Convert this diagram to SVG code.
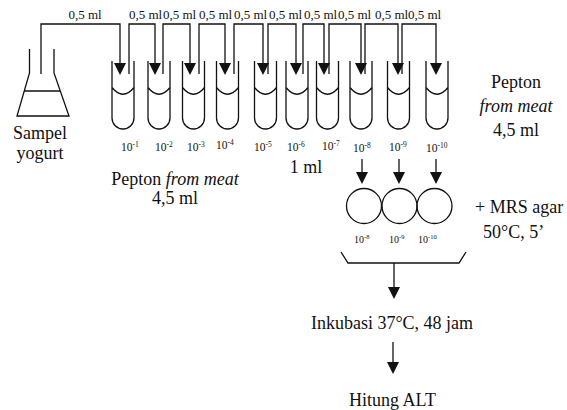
<svg xmlns="http://www.w3.org/2000/svg" width="567" height="410" viewBox="0 0 567 410">
<style>
  .ln{fill:none;stroke:#111;stroke-width:1.3}
  .t{font-family:"Liberation Serif","Times New Roman",serif;fill:#111}
  .big{font-size:18px}
  .ml{font-size:13px}
  .exp{font-size:11.5px}
  .exps{font-size:10px}
  .it{font-style:italic}
</style>
<defs>
  <marker id="ah" markerUnits="userSpaceOnUse" markerWidth="12" markerHeight="12" refX="0" refY="5.5" orient="auto" viewBox="0 0 11 11">
    <path d="M0,0 L11,5.5 L0,11 Z" fill="#111"/>
  </marker>
  <path id="tube" d="M0,61 V118 A11,11 0 0 0 22,118 V61 M0,87.5 Q11,101 22,87.5" fill="none" stroke="#111" stroke-width="1.3"/>
</defs>

<g id="flask">
  <path class="ln" d="M29.5,49 V73 L17,116 H69 L54,73 V49"/>
  <path class="ln" d="M24,91 H60"/>
  <text class="t big" x="40" y="139" text-anchor="middle">Sampel</text>
  <text class="t big" x="40" y="159" text-anchor="middle">yogurt</text>
</g>

<g id="tubes">
  <use href="#tube" x="112"/>
  <use href="#tube" x="148"/>
  <use href="#tube" x="182.5"/>
  <use href="#tube" x="216.5"/>
  <use href="#tube" x="254.5"/>
  <use href="#tube" x="286"/>
  <use href="#tube" x="316.5"/>
  <use href="#tube" x="350"/>
  <use href="#tube" x="387.5"/>
  <use href="#tube" x="426"/>
</g>

<g id="tube-labels" class="t exp">
  <text x="121" y="151">10<tspan dy="-4.5" font-size="7.5">-1</tspan></text>
  <text x="155" y="151">10<tspan dy="-4.5" font-size="7.5">-2</tspan></text>
  <text x="187" y="151">10<tspan dy="-4.5" font-size="7.5">-3</tspan></text>
  <text x="216" y="149">10<tspan dy="-4.5" font-size="7.5">-4</tspan></text>
  <text x="254" y="151">10<tspan dy="-4.5" font-size="7.5">-5</tspan></text>
  <text x="287" y="151">10<tspan dy="-4.5" font-size="7.5">-6</tspan></text>
  <text x="322" y="150">10<tspan dy="-4.5" font-size="7.5">-7</tspan></text>
  <text x="353" y="152">10<tspan dy="-4.5" font-size="7.5">-8</tspan></text>
  <text x="389" y="151">10<tspan dy="-4.5" font-size="7.5">-9</tspan></text>
  <text x="426" y="152">10<tspan dy="-4.5" font-size="7.5">-10</tspan></text>
</g>

<g id="connectors">
  <path class="ln" d="M41,74 V24 H120 V63" marker-end="url(#ah)"/>
  <path class="ln" d="M129,74 V24 H155 V63" marker-end="url(#ah)"/>
  <path class="ln" d="M163,74 V24 H190 V63" marker-end="url(#ah)"/>
  <path class="ln" d="M199,74 V24 H225 V63" marker-end="url(#ah)"/>
  <path class="ln" d="M234,74 V24 H263 V63" marker-end="url(#ah)"/>
  <path class="ln" d="M268,74 V24 H296 V63" marker-end="url(#ah)"/>
  <path class="ln" d="M303,74 V24 H324 V63" marker-end="url(#ah)"/>
  <path class="ln" d="M329,74 V24 H361 V63" marker-end="url(#ah)"/>
  <path class="ln" d="M365,74 V24 H398 V63" marker-end="url(#ah)"/>
  <path class="ln" d="M402,74 V24 H436 V63" marker-end="url(#ah)"/>
  <path class="ln" d="M362,159 V172" marker-end="url(#ah)"/>
  <path class="ln" d="M399,159 V172" marker-end="url(#ah)"/>
  <path class="ln" d="M436,159 V172" marker-end="url(#ah)"/>
  <path class="ln" d="M341,252 L348,263 H459 L466,252"/>
  <path class="ln" d="M394,263 V287" marker-end="url(#ah)"/>
  <path class="ln" d="M393,342 V362" marker-end="url(#ah)"/>
</g>

<g id="volume-labels" class="t ml">
  <text x="85" y="19" text-anchor="middle">0,5 ml</text>
  <text x="129" y="19">0,5 ml</text>
  <text x="163" y="19">0,5 ml</text>
  <text x="199" y="19">0,5 ml</text>
  <text x="234" y="19">0,5 ml</text>
  <text x="269" y="19">0,5 ml</text>
  <text x="304" y="19">0,5 ml</text>
  <text x="338" y="19">0,5 ml</text>
  <text x="375" y="19">0,5 ml</text>
  <text x="408" y="19">0,5 ml</text>
</g>

<g id="pepton-left" class="t big">
  <text x="175" y="185" text-anchor="middle">Pepton <tspan class="it">from meat</tspan></text>
  <text x="175" y="204" text-anchor="middle">4,5 ml</text>
</g>

<g id="pepton-right" class="t big">
  <text x="516" y="88" text-anchor="middle">Pepton</text>
  <text x="516" y="112" text-anchor="middle" class="it">from meat</text>
  <text x="516" y="136" text-anchor="middle">4,5 ml</text>
</g>

<g id="one-ml"><text class="t big" x="306" y="173" text-anchor="middle">1 ml</text></g>

<g id="plates">
  <circle class="ln" cx="364" cy="206" r="17.5"/>
  <circle class="ln" cx="399.5" cy="206" r="17.5"/>
  <circle class="ln" cx="434.5" cy="206" r="17.5"/>
  <g class="t exps">
    <text x="354" y="243">10<tspan dy="-4" font-size="6.5">-8</tspan></text>
    <text x="389" y="243">10<tspan dy="-4" font-size="6.5">-9</tspan></text>
    <text x="418" y="243">10<tspan dy="-4" font-size="6.5">-10</tspan></text>
  </g>
</g>

<g id="mrs" class="t big">
  <text x="475" y="213">+ MRS agar</text>
  <text x="483" y="238">50°C, 5’</text>
</g>

<g id="inkubasi"><text class="t big" x="392" y="329" text-anchor="middle">Inkubasi 37°C, 48 jam</text></g>
<g id="hitung"><text class="t big" x="392.5" y="406" text-anchor="middle">Hitung ALT</text></g>
</svg>
